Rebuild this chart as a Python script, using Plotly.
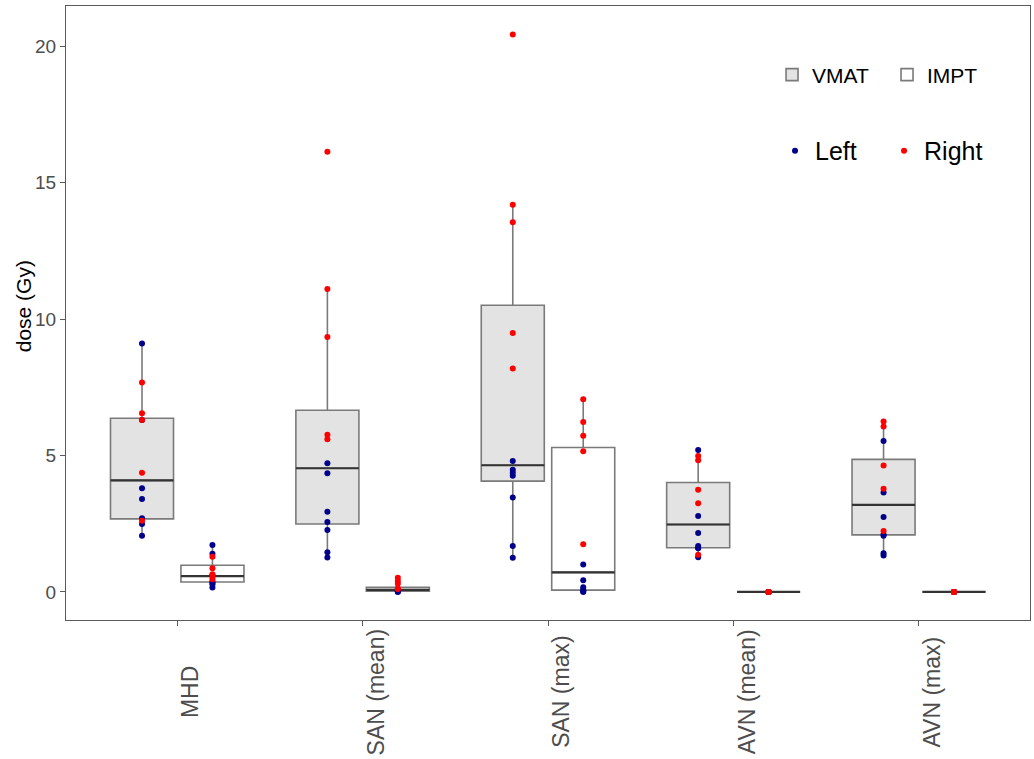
import numpy as np
import plotly.graph_objects as go

categories = ["MHD", "SAN (mean)", "SAN (max)", "AVN (mean)", "AVN (max)"]
treatments = ["VMAT", "IMPT"]
y_ticks = [0, 5, 10, 15, 20]

# dose values (Gy) per category, split by laterality
vmat_left = [
    [9.10, 3.80, 3.40, 2.70, 2.49, 2.06, 6.30],
    [4.71, 4.35, 2.94, 2.56, 2.27, 1.45, 1.26],
    [4.80, 4.48, 4.37, 4.26, 3.46, 1.68, 1.25],
    [5.20, 2.78, 2.16, 1.68, 1.62, 1.60, 1.27],
    [5.53, 3.64, 2.74, 2.10, 2.06, 1.42, 1.33],
]
vmat_right = [
    [7.67, 6.55, 6.30, 4.37, 2.61],
    [16.13, 11.10, 9.34, 5.76, 5.59],
    [20.43, 14.19, 13.55, 9.49, 8.19],
    [4.98, 4.82, 3.74, 3.25, 1.36],
    [6.24, 6.06, 4.63, 3.78, 2.23],
]
impt_left = [
    [1.72, 1.40, 0.60, 0.37, 0.33, 0.28, 0.16],
    [0.09, 0.06, 0.05, 0.03, 0.02, 0.01, 0.00],
    [1.00, 0.43, 0.17, 0.07, 0.05, 0.02, 0.00],
    [0.0, 0.0, 0.0, 0.0, 0.0, 0.0, 0.0],
    [0.0, 0.0, 0.0, 0.0, 0.0, 0.0, 0.0],
]
impt_right = [
    [1.29, 0.87, 0.65, 0.56, 0.46],
    [0.52, 0.40, 0.30, 0.12, 0.11],
    [7.06, 6.23, 5.72, 5.15, 1.75],
    [0.0, 0.0, 0.0, 0.0, 0.0],
    [0.0, 0.0, 0.0, 0.0, 0.0],
]

FONT = "Liberation Sans"
GREY_TXT = "#4D4D4D"
BOX_LINE = "#7a7a7a"
MED_LINE = "#333333"
FRAME = "#5a5a5a"
LEFT_C = "#00008B"
RIGHT_C = "#FF0000"

DODGE = 0.19
BOX_W = 0.34

groups = {
    "VMAT": (vmat_left, vmat_right, -DODGE, "#E3E3E3"),
    "IMPT": (impt_left, impt_right, +DODGE, "#FFFFFF"),
}


def stats(vals):
    v = np.sort(np.asarray(vals, dtype=float))
    q1, med, q3 = np.percentile(v, [25, 50, 75])
    iqr = q3 - q1
    lf = v[v >= q1 - 1.5 * iqr].min()
    uf = v[v <= q3 + 1.5 * iqr].max()
    return q1, med, q3, lf, uf


fig = go.Figure()

# boxes
for name in treatments:
    left, right, off, fill = groups[name]
    xs, q1s, meds, q3s, lfs, ufs = [], [], [], [], [], []
    for i in range(len(categories)):
        q1, med, q3, lf, uf = stats(left[i] + right[i])
        xs.append(i + 1 + off)
        q1s.append(q1); meds.append(med); q3s.append(q3)
        lfs.append(lf); ufs.append(uf)
    fig.add_trace(go.Box(
        name=name, x=xs, q1=q1s, median=meds, q3=q3s,
        lowerfence=lfs, upperfence=ufs, width=BOX_W,
        fillcolor=fill, line=dict(color=BOX_LINE, width=1.6),
        whiskerwidth=0, boxpoints=False, legend="legend",
        hoverinfo="skip",
    ))
    # darker median segments
    mx, my = [], []
    for x, m in zip(xs, meds):
        mx += [x - BOX_W / 2, x + BOX_W / 2, None]
        my += [m, m, None]
    fig.add_trace(go.Scatter(x=mx, y=my, mode="lines",
                             line=dict(color=MED_LINE, width=2.2),
                             showlegend=False, hoverinfo="skip"))

# points
for side, color, idx in [("Left", LEFT_C, 0), ("Right", RIGHT_C, 1)]:
    px, py = [], []
    for name in treatments:
        left, right, off, _ = groups[name]
        data = left if idx == 0 else right
        for i in range(len(categories)):
            for v in data[i]:
                px.append(i + 1 + off)
                py.append(v)
    fig.add_trace(go.Scatter(
        x=px, y=py, mode="markers", name=side,
        marker=dict(color=color, size=6, symbol="circle"),
        legend="legend2",
    ))

annotations = []
for i, c in enumerate(categories):
    annotations.append(dict(
        x=i + 1 + 0.07, xref="x", y=-0.117, yref="paper",
        text=c, textangle=-90, showarrow=False,
        xanchor="center", yanchor="middle",
        font=dict(family=FONT, size=23, color=GREY_TXT),
    ))
annotations.append(dict(
    x=-0.0446, xref="paper", y=0.511, yref="paper",
    text="dose (Gy)", textangle=-90, showarrow=False,
    xanchor="center", yanchor="middle",
    font=dict(family=FONT, size=21, color="#000000"),
))

fig.update_layout(
    width=1034, height=759,
    margin=dict(l=66, r=4, t=6, b=139, autoexpand=False),
    paper_bgcolor="white", plot_bgcolor="white",
    font=dict(family=FONT, color=GREY_TXT),
    xaxis=dict(
        range=[0.4, 5.6], tickvals=list(range(1, len(categories) + 1)),
        ticktext=[""] * len(categories), ticks="outside", ticklen=5,
        tickcolor=FRAME, showgrid=False, zeroline=False,
        showline=True, linecolor=FRAME, linewidth=1.2, mirror=True,
        automargin=False,
    ),
    yaxis=dict(
        range=[-1.03, 21.47], tickvals=y_ticks, ticks="outside", ticklen=5,
        tickcolor=FRAME, showgrid=False, zeroline=False,
        showline=True, linecolor=FRAME, linewidth=1.2, mirror=True,
        tickfont=dict(family=FONT, size=19, color=GREY_TXT),
        automargin=False,
    ),
    legend=dict(
        orientation="h", x=0.7324, y=0.8876, xanchor="left", yanchor="middle",
        font=dict(family=FONT, size=21, color="#000000"),
        bgcolor="rgba(0,0,0,0)", entrywidth=70, entrywidthmode="pixels",
    ),
    legend2=dict(
        orientation="h", x=0.7355, y=0.764, xanchor="left", yanchor="middle",
        font=dict(family=FONT, size=25, color="#000000"),
        bgcolor="rgba(0,0,0,0)", entrywidth=64, entrywidthmode="pixels",
    ),
    annotations=annotations,
    showlegend=True,
)

fig.write_html(
    "out.html",
    config={"displayModeBar": False},
    post_script="document.body.style.margin='0';document.body.style.overflow='hidden';",
)
